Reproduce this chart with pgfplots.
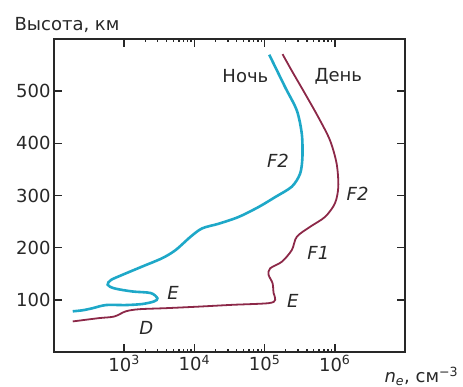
\documentclass[border=0pt]{standalone}
\usepackage{fontspec}
\setmainfont{DejaVu Sans}
\usepackage{pgfplots}
\pgfplotsset{compat=1.18}
\definecolor{night}{RGB}{30,168,200}
\definecolor{day}{RGB}{140,40,72}
\definecolor{axgray}{RGB}{40,40,40}
\begin{document}
\begin{tikzpicture}
\useasboundingbox (-54pt,-35pt) rectangle (409pt,352pt);
\begin{axis}[
  at={(0,0)}, anchor=south west,
  scale only axis, width=351pt, height=313pt,
  xmode=log, xmin=100, xmax=1e7, ymin=0, ymax=600,
  xtick={1e3,1e4,1e5,1e6},
  xticklabels={10\textsuperscript{3},10\textsuperscript{4},10\textsuperscript{5},10\textsuperscript{6}},
  ytick={100,200,300,400,500},
  yticklabels={100,200,300,400,500},
  minor tick num=0,
  tick align=inside,
  major tick length=8pt,
  tick style={line width=1.5pt, color=axgray},
  axis line style={axgray, line width=1.5pt},
  ticklabel style={font=\fontsize{18}{20}\selectfont, text=axgray},
  clip=false,
]
\addplot[night, line width=2.6pt, smooth, tension=0.5] coordinates {
(1.164e5,570) (1.963e5,507.6) (2.877e5,463) (3.388e5,418) (3.459e5,374)
(3.206e5,342) (2.443e5,317) (1.416e5,297) (8.22e4,278) (4.28e4,259)
(2.23e4,246) (1.29e4,237) (8830,221) (5410,195.5) (3500,180) (1820,164)
(946,148) (647,138) (581,129) (721,122) (1312,116) (2388,113) (2972,103)
(2667,97) (1820,92) (1057,90) (550,90) (356,84) (256,80) (185,78)
};
\addplot[day, line width=1.8pt, smooth, tension=0.5] coordinates {
(1.80e5,571) (2.443e5,539) (3.776e5,495) (5.83e5,450) (8.53e5,406)
(1.062e6,361) (1.122e6,317) (1.005e6,285) (7.26e5,259) (4.45e5,240)
(2.877e5,221) (2.443e5,195.5) (1.762e5,173) (1.202e5,160.5) (1.140e5,148)
(1.297e5,132) (1.343e5,113) (1.416e5,100) (1.140e5,93.6) (3.44e4,90.4)
(1.159e4,87) (3900,84) (1633,82) (1057,78) (721,68) (442,65) (185,58.6)
};
\begin{scope}[line width=1.5pt, axgray]
\draw (axis cs:1e3,0) -- ([yshift=8pt]axis cs:1e3,0);
\draw (axis cs:1e4,0) -- ([yshift=8pt]axis cs:1e4,0);
\draw (axis cs:1e5,0) -- ([yshift=8pt]axis cs:1e5,0);
\draw (axis cs:1e6,0) -- ([yshift=8pt]axis cs:1e6,0);
\draw (axis cs:1e3,600) -- ([yshift=-8pt]axis cs:1e3,600);
\draw (axis cs:1e4,600) -- ([yshift=-8pt]axis cs:1e4,600);
\draw (axis cs:1e5,600) -- ([yshift=-8pt]axis cs:1e5,600);
\draw (axis cs:1e6,600) -- ([yshift=-8pt]axis cs:1e6,600);
\draw (axis cs:100,100) -- ([xshift=8pt]axis cs:100,100);
\draw (axis cs:100,200) -- ([xshift=8pt]axis cs:100,200);
\draw (axis cs:100,300) -- ([xshift=8pt]axis cs:100,300);
\draw (axis cs:100,400) -- ([xshift=8pt]axis cs:100,400);
\draw (axis cs:100,500) -- ([xshift=8pt]axis cs:100,500);
\draw (axis cs:1e7,100) -- ([xshift=-8pt]axis cs:1e7,100);
\draw (axis cs:1e7,200) -- ([xshift=-8pt]axis cs:1e7,200);
\draw (axis cs:1e7,300) -- ([xshift=-8pt]axis cs:1e7,300);
\draw (axis cs:1e7,400) -- ([xshift=-8pt]axis cs:1e7,400);
\draw (axis cs:1e7,500) -- ([xshift=-8pt]axis cs:1e7,500);
\end{scope}
\begin{scope}[every node/.style={font=\fontsize{18}{20}\selectfont, text=axgray}]
\node at (axis cs:5.32e4,528) {Ночь};
\node at (axis cs:1.12e6,528) {День};
\node at (axis cs:1.55e5,367) {\itshape F2};
\node at (axis cs:2.11e6,304) {\itshape F2};
\node at (axis cs:5.83e5,189) {\itshape F1};
\node at (axis cs:4950,113) {\itshape E};
\node at (axis cs:2.52e5,97) {\itshape E};
\node at (axis cs:2070,46) {\itshape D};
\node[anchor=base west, xshift=-43pt, yshift=9pt] at (rel axis cs:0,1) {Высота, км};
\node[anchor=base west, xshift=327pt, yshift=-31pt] at (rel axis cs:0,0) {\itshape n\textsubscript{\itshape e}\upshape, см\textsuperscript{−3}};
\end{scope}
\end{axis}
\end{tikzpicture}
\end{document}
